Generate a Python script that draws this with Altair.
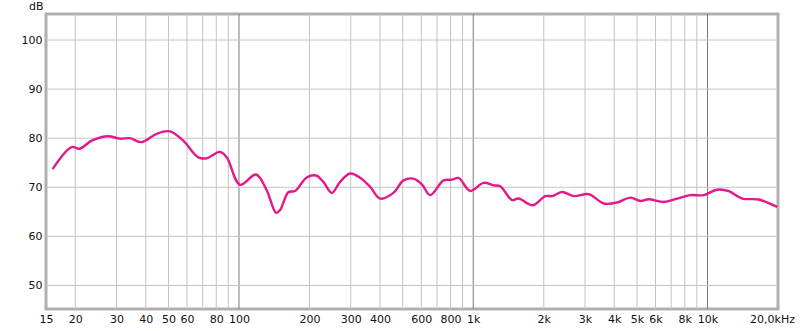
import altair as alt
import pandas as pd

# Frequency response curve (Hz, dB)
freq = [16.0, 19.3, 20.9, 23.5, 27.6, 31.0, 34.2, 38.4, 44.5, 50.7, 57.8, 67.0, 72.8,
        82.9, 88.6, 101, 118.2, 131.3, 143.9, 150, 162.4, 173.5, 194.6, 213.2, 229.2,
        248.9, 270.2, 298, 328.8, 363, 400.5, 456, 503.7, 555.4, 603.6, 655, 746.6,
        811, 865.7, 971, 1106, 1221, 1304, 1463, 1562, 1800, 2031, 2170, 2393, 2684,
        3112, 3608, 4113, 4688, 5173, 5615, 6511, 7420, 8457, 9638, 10990, 12330,
        14070, 16560, 19850]
db = [73.7, 78.2, 77.85, 79.5, 80.4, 79.9, 80.0, 79.2, 80.9, 81.4, 79.5, 76.1, 75.9,
      77.2, 76.1, 70.5, 72.6, 69.4, 64.8, 65.4, 69.0, 69.25, 72.0, 72.4, 71.1,
      68.85, 71.1, 72.8, 71.95, 70.1, 67.7, 68.85, 71.4, 71.75, 70.6, 68.4, 71.4,
      71.55, 71.9, 69.25, 70.9, 70.4, 70.2, 67.4, 67.7, 66.35, 68.2, 68.2, 69.05, 68.2,
      68.6, 66.7, 66.9, 67.9, 67.2, 67.55, 67.0, 67.7, 68.4, 68.4, 69.5, 69.2,
      67.7, 67.5, 66.0]

tick_vals = [15, 20, 30, 40, 50, 60, 80, 100, 200, 300, 400, 600, 800, 1000, 2000,
             3000, 4000, 5000, 6000, 8000, 10000, 20000]
tick_text = ["15", "20", "30", "40", "50", "60", "80", "100", "200", "300", "400", "600",
             "800", "1k", "2k", "3k", "4k", "5k", "6k", "8k", "10k", "20,0kHz"]

minor_grid = [20, 30, 40, 50, 60, 70, 80, 90, 200, 300, 400, 500, 600, 700, 800, 900,
              2000, 3000, 4000, 5000, 6000, 7000, 8000, 9000]
major_grid = [100, 1000, 10000]
y_vals = [50, 60, 70, 80, 90, 100]

label_expr = "''"
for v, t in reversed(list(zip(tick_vals, tick_text))):
    label_expr = f"datum.value == {v} ? '{t}' : ({label_expr})"

xscale = alt.Scale(type="log", domain=[15, 20000], nice=False)
yscale = alt.Scale(domain=[45.2, 105.3], nice=False, zero=False)

FONT = "DejaVu Sans"

curve_df = pd.DataFrame({"f": freq, "db": db})

base_x = alt.X("f:Q", scale=xscale, axis=alt.Axis(
    values=tick_vals, labelExpr=label_expr, grid=False, ticks=False, tickSize=0,
    domain=False, title=None, labelFont=FONT, labelFontSize=11, labelColor="#111",
    labelPadding=4, labelFlush=False, labelOverlap=False,
    labelOffset={"condition": {"test": "datum.value == 20000", "value": -6}, "value": 0}))
base_y = alt.Y("db:Q", scale=yscale, axis=alt.Axis(
    values=y_vals, grid=False, ticks=False, tickSize=0, domain=False, title="dB",
    titleAngle=0, titleAlign="right", titleBaseline="bottom", titleX=-3, titleY=-3,
    titleFont=FONT, titleFontSize=11, titleFontWeight="normal", titleColor="#111",
    labelFont=FONT, labelFontSize=11, labelColor="#111", labelPadding=4))

minor = alt.Chart(pd.DataFrame({"f": minor_grid})).mark_rule(
    color="#c4c4c4", strokeWidth=1).encode(x=alt.X("f:Q", scale=xscale))
major = alt.Chart(pd.DataFrame({"f": major_grid})).mark_rule(
    color="#7a7a7a", strokeWidth=1).encode(x=alt.X("f:Q", scale=xscale))
hgrid = alt.Chart(pd.DataFrame({"db": y_vals})).mark_rule(
    color="#c4c4c4", strokeWidth=1).encode(y=alt.Y("db:Q", scale=yscale))

line = alt.Chart(curve_df).mark_line(
    color="#e6168c", strokeWidth=2.4, interpolate="catmull-rom", clip=True
).encode(x=base_x, y=base_y)

chart = alt.layer(minor, major, hgrid, line).properties(
    width=732, height=295,
    autosize=alt.AutoSizeParams(type="none"),
    padding={"left": 46, "top": 14, "right": 22, "bottom": 22},
    background="white",
).configure_view(stroke="#b0b0b0", strokeWidth=3)

chart.save("out.html", embed_options={"renderer": "svg", "actions": False})
